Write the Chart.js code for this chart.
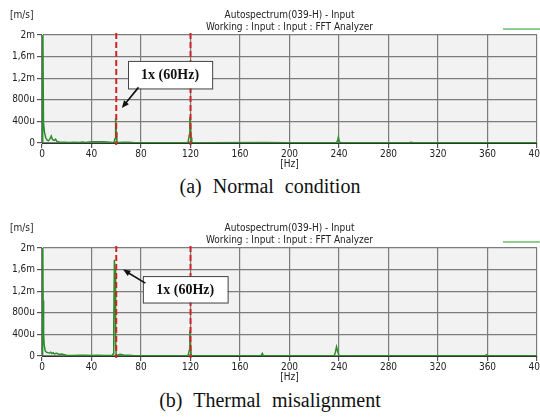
<!DOCTYPE html>
<html lang="en">

<head>
    <meta charset="UTF-8">
    <script src="https://cdn.jsdelivr.net/npm/chart.js@4"></script>
    <title>Autospectrum</title>
    <style>
        body { margin: 0; width: 540px; height: 420px; overflow: hidden; background: #fff; position: relative; }
        .box { position: absolute; left: 0; width: 540px; height: 170px; }
        .cap { position: absolute; left: 0; width: 540px; text-align: center; font: 20px "Liberation Serif", "Times New Roman", serif; color: #111; word-spacing: 6px; }
    </style>
</head>

<body>
    <div class="box" style="top:0"><canvas id="chartA"></canvas></div>
    <div class="cap" style="top:175px">(a) Normal condition</div>
    <div class="box" style="top:213px"><canvas id="chartB"></canvas></div>
    <div class="cap" style="top:389px">(b) Thermal misalignment</div>
</body>

<script type='text/javascript'>

    // values in micro m/s, frequency in Hz
    const normalHz = [0, 0.3, 0.8, 1.2, 2, 3, 4, 5, 6, 7.5, 8.5, 10, 11, 12, 14, 18, 22, 26, 30, 33, 35, 40, 45, 50, 55, 58, 59, 59.5, 60, 60.5, 61, 62, 66, 70, 75, 100, 118, 119, 119.5, 120, 120.5, 121, 130, 180, 200, 238, 239, 239.5, 240, 241, 297, 298, 300, 400]
    const normalVal = [0, 2600, 2600, 380, 200, 100, 60, 40, 60, 130, 60, 50, 70, 30, 20, 15, 10, 12, 10, 20, 10, 25, 22, 25, 15, 5, 80, 460, 200, 30, 10, 8, 15, 12, 5, 5, 5, 150, 480, 300, 100, 10, 5, 8, 5, 5, 60, 110, 50, 5, 5, 12, 5, 5]

    const thermalHz = [0, 0.3, 0.7, 0.9, 1.3, 1.8, 2.5, 3.5, 5, 6, 7, 8, 9, 10, 12, 14, 16, 18, 20, 25, 30, 35, 40, 45, 50, 55, 57, 57.5, 58, 58.5, 59, 59.5, 60, 61, 63, 66, 70, 75, 100, 118, 119, 119.5, 120, 120.5, 121, 177, 178, 179, 236, 237, 238, 239, 240, 358, 359, 360, 400]
    const thermalVal = [0, 2600, 2600, 1030, 410, 200, 100, 70, 60, 55, 70, 45, 60, 40, 50, 30, 35, 25, 15, 10, 12, 15, 10, 12, 10, 8, 10, 40, 650, 1780, 1600, 200, 20, 10, 30, 20, 15, 5, 5, 5, 100, 470, 200, 20, 5, 5, 50, 5, 5, 60, 170, 80, 5, 5, 20, 5, 5]

    const yTicks = [0, 400, 800, 1200, 1600, 2000]
    const yTickLabels = ['0', '400u', '800u', '1,2m', '1,6m', '2m']
    const markerHz = [60, 120]
    const titleLines = ['Autospectrum(039-H) - Input', 'Working : Input : Input : FFT Analyzer']
    const noteText = '1x (60Hz)'

    const smallFont = '"Liberation Sans Narrow", "DejaVu Sans Condensed", sans-serif'

    // annotation box corners and arrow, in data units (Hz, micro m/s)
    const noteA = { box: [69.5, 1520, 137.5, 1010], from: [78, 1030], to: [64.5, 650] }
    const noteB = { box: [81.5, 1480, 150, 990], from: [83.5, 1350], to: [65.5, 1600] }

    const chartDecor = {
        id: 'chartDecor',
        beforeDraw(chart) {
            const { ctx, chartArea: a } = chart
            ctx.save()
            ctx.fillStyle = '#f2f2f2'
            ctx.fillRect(a.left, a.top, a.right - a.left, a.bottom - a.top)
            ctx.restore()
        },
        afterDraw(chart) {
            const { ctx, chartArea: a, scales } = chart
            const note = chart.options.plugins.chartDecor.note
            const xs = scales.x, ys = scales.y
            ctx.save()
            // header texts
            ctx.fillStyle = '#222'
            ctx.font = '10px ' + smallFont
            ctx.textBaseline = 'middle'
            ctx.textAlign = 'left'
            ctx.fillText('[m/s]', 10, 15)
            ctx.textAlign = 'center'
            ctx.fillText(titleLines[0], (a.left + a.right) / 2, 15)
            ctx.fillText(titleLines[1], (a.left + a.right) / 2, 27)
            // legend swatch
            ctx.strokeStyle = '#8fcf8f'
            ctx.lineWidth = 2
            ctx.beginPath()
            ctx.moveTo(503, 29)
            ctx.lineTo(540, 29)
            ctx.stroke()
            // red dashed markers
            ctx.strokeStyle = '#d02424'
            ctx.lineWidth = 2
            ctx.setLineDash([6, 3])
            markerHz.forEach(hz => {
                const px = xs.getPixelForValue(hz)
                ctx.beginPath()
                ctx.moveTo(px, a.top - 2)
                ctx.lineTo(px, a.bottom + 2)
                ctx.stroke()
            })
            ctx.setLineDash([])
            // annotation box
            const bx0 = xs.getPixelForValue(note.box[0]), by0 = ys.getPixelForValue(note.box[1])
            const bx1 = xs.getPixelForValue(note.box[2]), by1 = ys.getPixelForValue(note.box[3])
            ctx.fillStyle = '#fff'
            ctx.fillRect(bx0, by0, bx1 - bx0, by1 - by0)
            ctx.strokeStyle = '#444'
            ctx.lineWidth = 1
            ctx.strokeRect(bx0 + 0.5, by0 + 0.5, bx1 - bx0, by1 - by0)
            ctx.fillStyle = '#111'
            ctx.font = 'bold 14px "Liberation Serif", "Times New Roman", serif'
            ctx.textAlign = 'center'
            ctx.fillText(noteText, (bx0 + bx1) / 2, (by0 + by1) / 2 + 1)
            // arrow
            const fx = xs.getPixelForValue(note.from[0]), fy = ys.getPixelForValue(note.from[1])
            const tx = xs.getPixelForValue(note.to[0]), ty = ys.getPixelForValue(note.to[1])
            const ang = Math.atan2(ty - fy, tx - fx)
            ctx.strokeStyle = '#111'
            ctx.lineWidth = 1.6
            ctx.beginPath()
            ctx.moveTo(fx, fy)
            ctx.lineTo(tx - 5 * Math.cos(ang), ty - 5 * Math.sin(ang))
            ctx.stroke()
            ctx.fillStyle = '#111'
            ctx.beginPath()
            ctx.moveTo(tx, ty)
            ctx.lineTo(tx - 8 * Math.cos(ang - 0.4), ty - 8 * Math.sin(ang - 0.4))
            ctx.lineTo(tx - 8 * Math.cos(ang + 0.4), ty - 8 * Math.sin(ang + 0.4))
            ctx.closePath()
            ctx.fill()
            ctx.restore()
        }
    }

    makeChart = (id, hz, vals, note) => {
        const ctx = document.getElementById(id).getContext('2d')
        return new Chart(ctx, {
            type: 'line',
            data: {
                datasets: [{
                    data: hz.map((f, i) => ({ x: f, y: vals[i] })),
                    borderColor: '#2a8f2a',
                    borderWidth: 1.5,
                    pointRadius: 0,
                    tension: 0
                }]
            },
            plugins: [chartDecor],
            options: {
                responsive: true,
                maintainAspectRatio: false,
                animation: false,
                layout: { padding: { top: 35, right: 3, left: 0, bottom: 0 } },
                plugins: {
                    legend: { display: false },
                    tooltip: { enabled: false },
                    chartDecor: { note: note }
                },
                scales: {
                    x: {
                        type: 'linear', min: 0, max: 400,
                        ticks: { stepSize: 40, color: '#222', font: { size: 10, family: smallFont }, padding: 0, maxRotation: 0 },
                        grid: { color: '#7c7c7c', lineWidth: 1.2, tickLength: 5, tickColor: '#555' },
                        border: { color: '#333', width: 1 },
                        title: { display: true, text: '[Hz]', color: '#222', font: { size: 10, family: smallFont }, padding: { top: -4, bottom: 0 } },
                        afterFit: (s) => { s.height = 27; s.paddingLeft = 0; s.paddingRight = 0 }
                    },
                    y: {
                        min: 0, max: 2000,
                        afterBuildTicks: (s) => { s.ticks = yTicks.map(v => ({ value: v })) },
                        ticks: {
                            color: '#222', font: { size: 10, family: smallFont }, padding: 2,
                            callback: (v) => yTickLabels[yTicks.indexOf(v)]
                        },
                        grid: { color: '#7c7c7c', lineWidth: 1.2, tickLength: 5, tickColor: '#555' },
                        border: { color: '#333', width: 1 },
                        afterFit: (s) => { s.width = 42; s.paddingTop = 0; s.paddingBottom = 0 }
                    }
                }
            }
        })
    }

    makeChart('chartA', normalHz, normalVal, noteA)
    makeChart('chartB', thermalHz, thermalVal, noteB)

</script>

</html>
